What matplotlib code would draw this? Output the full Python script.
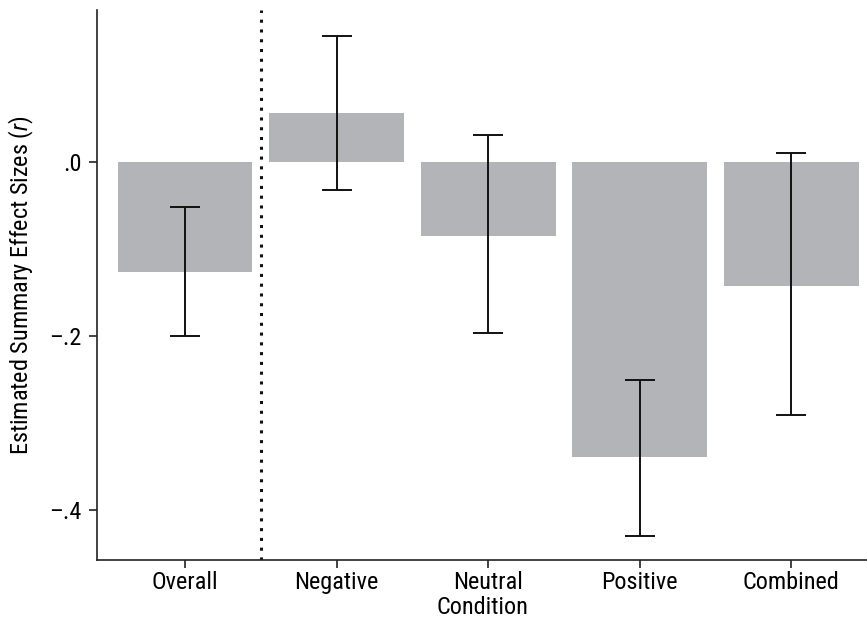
import numpy as np
import matplotlib.pyplot as plt

conditions = ['Overall', 'Negative', 'Neutral', 'Positive', 'Combined']
effect = [-0.126, 0.056, -0.085, -0.339, -0.142]
ci_low = [-0.200, -0.032, -0.197, -0.429, -0.291]
ci_high = [-0.052, 0.144, 0.031, -0.250, 0.010]
yticks = [0.0, -0.2, -0.4]
ytick_labels = ['.0', '\u2013.2', '\u2013.4']

plt.rcParams['font.family'] = ['Roboto Condensed', 'DejaVu Sans']
plt.rcParams['font.stretch'] = 'condensed'
plt.rcParams['mathtext.fontset'] = 'custom'
plt.rcParams['mathtext.it'] = 'Roboto Condensed:italic'

x = np.arange(len(conditions))
effect = np.array(effect)
yerr = np.vstack([effect - np.array(ci_low), np.array(ci_high) - effect])

fig = plt.figure(figsize=(8.67, 6.3), dpi=100)
ax = fig.add_axes([0.112, 0.111, 0.888, 0.873])
ax.bar(x, effect, width=0.89, color='#b3b4b8', zorder=1)
ax.errorbar(x, effect, yerr=yerr, fmt='none', ecolor='#111111',
            elinewidth=1.4, capsize=11, capthick=1.4, zorder=2)
ax.axvline(0.5, color='#111111', linestyle=(0, (1, 2.2)), linewidth=2.2)

ax.set_xlim(-0.58, 4.5)
ax.set_ylim(-0.457, 0.174)
ax.set_xticks(x)
ax.set_xticklabels(conditions)
ax.set_yticks(yticks)
ax.set_yticklabels(ytick_labels)
ax.tick_params(labelsize=17.5, length=6, width=1.2, color='#222222')
ax.tick_params(axis='x', pad=2)
ax.tick_params(axis='y', pad=5)
ax.set_xlabel('Condition', fontsize=17.5, labelpad=1)
ax.set_ylabel('Estimated Summary Effect Sizes ($\\mathit{r}$)', fontsize=17.5, labelpad=10)
for s in ['top', 'right']:
    ax.spines[s].set_visible(False)
for s in ['left', 'bottom']:
    ax.spines[s].set_linewidth(1.2)
    ax.spines[s].set_color('#222222')

fig.savefig('out.png', dpi=100)
